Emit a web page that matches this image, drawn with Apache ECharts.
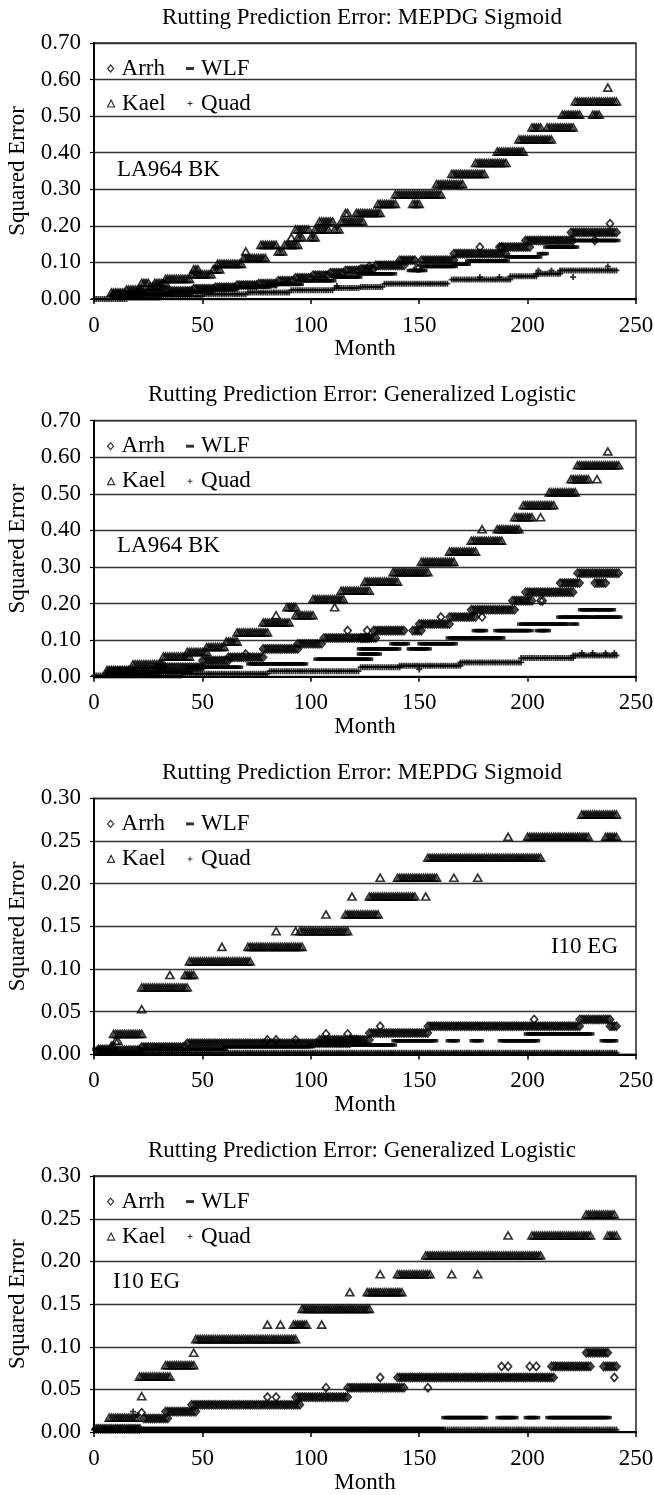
<!DOCTYPE html>
<html><head><meta charset="utf-8">
<script src="https://cdn.jsdelivr.net/npm/echarts@6/dist/echarts.min.js"></script>
<style>html,body{margin:0;padding:0;background:#fff}#c{width:654px;height:1495px}</style>
</head><body><div id="c"></div>
<script>
// ---------- text ----------
const titles = [
  'Rutting Prediction Error: MEPDG Sigmoid',
  'Rutting Prediction Error: Generalized Logistic',
  'Rutting Prediction Error: MEPDG Sigmoid',
  'Rutting Prediction Error: Generalized Logistic'
];
const siteLabels = ['LA964 BK', 'LA964 BK', 'I10 EG', 'I10 EG'];
const seriesNames = ['Arrh', 'WLF', 'Kael', 'Quad'];
const xAxisName = 'Month';
const yAxisName = 'Squared Error';
const xTickMax = 250, xTickStep = 50;
const yTickMax = [0.70, 0.70, 0.30, 0.30];
const yTickStep = [0.10, 0.10, 0.05, 0.05];

// ---------- data: runs of [firstMonth, lastMonth, squaredError] ----------
// Panel 1: LA964 BK, MEPDG Sigmoid
const arrh1 = [[9,20,0.012],[20,30,0.018],[31,45,0.022],[46,55,0.028],[56,65,0.032],[66,75,0.038],[76,84,0.042],[85,92,0.05],[93,100,0.058],[101,108,0.065],[109,115,0.072],[116,122,0.078],[123,129,0.082],[127,127,0.089],[130,143,0.092],[141,148,0.106],[149,150,0.085],[151,166,0.106],[166,166,0.124],[167,190,0.124],[178,178,0.142],[188,188,0.142],[187,201,0.142],[199,221,0.16],[220,241,0.182],[231,231,0.16],[238,238,0.206]];
const wlf1 = [[9,20,0.008],[21,35,0.013],[36,50,0.02],[51,65,0.026],[66,80,0.033],[81,95,0.04],[96,110,0.05],[111,122,0.06],[123,138,0.069],[146,152,0.078],[152,166,0.089],[167,172,0.095],[173,190,0.104],[191,205,0.115],[206,208,0.124],[209,222,0.142],[222,241,0.16]];
const kael1 = [[8,14,0.018],[15,22,0.0256],[22,25,0.044],[26,30,0.034],[28,33,0.044],[33,44,0.055],[45,54,0.0676],[46,48,0.081],[55,58,0.081],[57,68,0.096],[69,75,0.112],[70,70,0.13],[76,79,0.112],[77,84,0.148],[85,87,0.13],[88,94,0.148],[91,91,0.168],[93,99,0.19],[94,96,0.168],[100,102,0.168],[102,108,0.19],[104,110,0.212],[111,113,0.19],[114,124,0.212],[116,117,0.235],[121,132,0.235],[131,139,0.26],[139,160,0.286],[147,150,0.26],[158,170,0.314],[165,180,0.342],[176,190,0.372],[186,198,0.403],[196,205,0.436],[202,206,0.469],[206,211,0.436],[209,221,0.469],[216,224,0.504],[222,241,0.54],[230,233,0.504],[237,237,0.578]];
const quad1 = [[0,15,0.0],[16,30,0.004],[31,50,0.008],[51,70,0.013],[71,90,0.018],[91,110,0.024],[111,122,0.03],[112,112,0.036],[123,133,0.033],[134,163,0.042],[165,192,0.053],[178,178,0.06],[187,187,0.06],[192,204,0.062],[204,215,0.069],[205,205,0.078],[211,211,0.078],[215,241,0.078],[221,221,0.06],[237,237,0.089]];

// Panel 2: LA964 BK, Generalized Logistic
const arrh2 = [[7,29,0.015],[29,50,0.026],[50,62,0.044],[62,78,0.053],[70,70,0.062],[78,94,0.076],[94,105,0.09],[106,127,0.106],[117,117,0.126],[126,126,0.126],[123,130,0.106],[129,143,0.126],[147,151,0.126],[150,164,0.144],[160,160,0.163],[164,176,0.163],[179,179,0.163],[174,194,0.183],[193,202,0.208],[206,207,0.208],[199,221,0.231],[215,224,0.256],[231,236,0.256],[223,242,0.283]];
const wlf2 = [[7,44,0.012],[44,67,0.026],[72,97,0.035],[103,127,0.048],[123,131,0.062],[123,140,0.076],[138,144,0.09],[146,154,0.076],[151,166,0.09],[164,188,0.106],[176,180,0.126],[186,201,0.126],[205,209,0.126],[197,218,0.144],[221,222,0.144],[215,228,0.163],[230,242,0.163],[225,239,0.183]];
const kael2 = [[6,18,0.018],[18,32,0.034],[32,44,0.055],[43,52,0.0676],[52,60,0.081],[61,66,0.096],[66,80,0.121],[78,90,0.148],[84,84,0.168],[89,93,0.19],[93,101,0.168],[101,115,0.212],[111,111,0.19],[114,127,0.235],[125,140,0.26],[138,154,0.286],[151,166,0.314],[164,176,0.342],[174,188,0.372],[179,179,0.403],[186,196,0.403],[194,202,0.436],[206,206,0.436],[198,212,0.469],[210,222,0.504],[220,228,0.54],[232,232,0.54],[223,242,0.578],[237,237,0.616]];
const quad2 = [[0,40,0.003],[41,80,0.008],[81,122,0.015],[123,141,0.026],[150,150,0.02],[141,169,0.03],[169,197,0.039],[197,221,0.051],[221,241,0.058],[225,225,0.065],[230,230,0.065],[236,236,0.065],[240,240,0.065]];

// Panel 3: I10 EG, MEPDG Sigmoid
const arrh3 = [[2,8,0.006],[9,21,0.005],[22,42,0.0086],[43,118,0.013],[80,80,0.017],[84,84,0.017],[93,93,0.017],[104,122,0.017],[107,107,0.024],[117,117,0.024],[118,127,0.017],[127,154,0.025],[132,132,0.033],[154,224,0.033],[203,203,0.041],[224,238,0.041],[238,241,0.033]];
const wlf3 = [[1,4,0.006],[5,21,0.002],[22,60,0.006],[61,100,0.009],[100,138,0.011],[139,157,0.016],[164,167,0.016],[175,178,0.016],[188,204,0.016],[200,229,0.024],[235,240,0.016]];
const kael3 = [[8,9,0.01],[10,11,0.016],[9,22,0.024],[22,22,0.0529],[22,43,0.0784],[35,35,0.093],[42,46,0.093],[44,72,0.109],[59,59,0.126],[71,96,0.126],[84,84,0.1444],[93,93,0.1444],[95,117,0.1444],[107,107,0.164],[116,131,0.164],[119,119,0.185],[127,148,0.185],[153,153,0.185],[132,132,0.207],[140,158,0.207],[166,166,0.207],[177,177,0.207],[154,206,0.2304],[191,191,0.255],[200,228,0.255],[236,241,0.255],[225,241,0.281]];
const quad3 = [[1,241,0.002]];

// Panel 4: I10 EG, Generalized Logistic
const arrh4 = [[1,21,0.004],[22,22,0.0227],[23,34,0.016],[33,47,0.024],[45,95,0.032],[80,80,0.041],[84,84,0.041],[93,93,0.041],[94,117,0.041],[107,107,0.052],[117,143,0.052],[154,154,0.052],[132,132,0.064],[140,212,0.064],[188,188,0.077],[191,191,0.077],[201,201,0.077],[204,204,0.077],[211,229,0.077],[235,241,0.077],[227,237,0.093],[240,240,0.064]];
const wlf4 = [[1,160,0.004],[162,180,0.017],[187,194,0.017],[200,204,0.017],[210,237,0.017]];
const kael4 = [[7,20,0.0169],[22,22,0.042],[21,35,0.065],[33,46,0.0784],[46,46,0.093],[47,93,0.109],[80,80,0.126],[86,86,0.126],[92,98,0.126],[105,105,0.126],[96,127,0.1444],[118,118,0.164],[126,142,0.164],[132,132,0.185],[140,155,0.185],[165,165,0.185],[177,177,0.185],[153,206,0.207],[191,191,0.2304],[202,229,0.2304],[237,241,0.2304],[227,240,0.255]];
const quad4 = [[0,241,0.003],[18,18,0.024],[20,20,0.02]];

const panelData = [
  [arrh1, wlf1, kael1, quad1],
  [arrh2, wlf2, kael2, quad2],
  [arrh3, wlf3, kael3, quad3],
  [arrh4, wlf4, kael4, quad4]
];

// ---------- build ----------
function expand(runs) {
  const out = [];
  runs.forEach(([a, b, v]) => { for (let m = a; m <= b; m++) out.push([m, v]); });
  return out;
}

const FONT = 'Liberation Serif';
const FS = 23;
const GRID_LEFT = 94, GRID_RIGHT = 18, GRID_H = 256;
const gridTop = i => 43 + i * 377.7;

const hollow = { color: 'rgba(0,0,0,0)', borderColor: '#000', borderWidth: 1.7 };
const solid = { color: '#000', borderWidth: 0 };
const markerStyle = {
  Arrh: { symbol: 'diamond', size: [7, 8], style: hollow,
          icon: 'path://M3,0L6,3.5L3,7L0,3.5Z' },
  WLF:  { symbol: 'rect', size: [8, 3.5], style: solid,
          icon: 'path://M0,2H8V5H0Z M0,0L0,0 M0,7L0,7' },
  Kael: { symbol: 'triangle', size: [8, 7], style: hollow,
          icon: 'path://M3,0L6,6L0,6Z' },
  Quad: { symbol: 'path://M2.1,0H3.9V2.1H6V3.9H3.9V6H2.1V3.9H0V2.1H2.1Z', size: [6, 6], style: solid,
          icon: 'path://M3,1H4V3H6V4H4V6H3V4H1V3H3Z M0,0L0,0 M7,7L7,7' }
};
const legendIconStyle = {
  Arrh: { color: 'rgba(0,0,0,0)', borderColor: '#000', borderWidth: 1.2 },
  WLF: { color: '#000', borderWidth: 0 },
  Kael: { color: 'rgba(0,0,0,0)', borderColor: '#000', borderWidth: 1.2 },
  Quad: { color: '#000', borderWidth: 0 }
};

const option = {
  animation: false,
  backgroundColor: '#fff',
  textStyle: { fontFamily: FONT },
  title: [], grid: [], xAxis: [], yAxis: [], series: [], legend: [], graphic: []
};

for (let i = 0; i < 4; i++) {
  const top = gridTop(i);
  option.title.push({
    text: titles[i], left: GRID_LEFT + (654 - GRID_LEFT - GRID_RIGHT) / 2 - 3, top: top - 37,
    textAlign: 'center', padding: 0,
    textStyle: { fontFamily: FONT, fontSize: FS, fontWeight: 'normal', color: '#000' }
  });
  option.grid.push({
    left: GRID_LEFT, right: GRID_RIGHT, top: top, height: GRID_H,
    show: true, borderColor: '#222', borderWidth: 1.5, backgroundColor: 'rgba(0,0,0,0)',
    containLabel: false, outerBoundsMode: 'none'
  });
  option.xAxis.push({
    type: 'value', gridIndex: i, min: 0, max: xTickMax, interval: xTickStep,
    name: xAxisName, nameLocation: 'middle', nameGap: 38,
    nameTextStyle: { fontFamily: FONT, fontSize: FS, color: '#000' },
    axisLine: { show: true, onZero: false, lineStyle: { color: '#000', width: 2 } },
    axisTick: { show: true, inside: false, length: 5, lineStyle: { color: '#000', width: 1.5 } },
    splitLine: { show: false },
    axisLabel: { fontFamily: FONT, fontSize: FS, color: '#000', margin: 15, showMinLabel: true, showMaxLabel: true }
  });
  option.yAxis.push({
    type: 'value', gridIndex: i, min: 0, max: yTickMax[i], interval: yTickStep[i],
    name: yAxisName, nameLocation: 'middle', nameGap: 65, nameRotate: 90,
    nameTextStyle: { fontFamily: FONT, fontSize: FS, color: '#000' },
    axisLine: { show: true, onZero: false, lineStyle: { color: '#000', width: 2 } },
    axisTick: { show: true, inside: false, length: 4, lineStyle: { color: '#000', width: 1.2 } },
    splitLine: { show: true, lineStyle: { color: '#333', width: 1.3 } },
    axisLabel: { fontFamily: FONT, fontSize: FS, color: '#000', margin: 13,
                 showMinLabel: true, showMaxLabel: true,
                 formatter: v => v.toFixed(2) }
  });
  seriesNames.forEach((name, k) => {
    const ms = markerStyle[name];
    option.series.push({
      type: 'scatter', name: name, xAxisIndex: i, yAxisIndex: i,
      symbol: ms.symbol, symbolSize: ms.size,
      itemStyle: ms.style, emphasis: { disabled: true },
      silent: true, large: false,
      data: expand(panelData[i][k])
    });
  });
  const legendBase = {
    left: 107, itemWidth: 12, itemHeight: 7, itemGap: 21, padding: 0,
    selectedMode: false, orient: 'horizontal',
    textStyle: { fontFamily: FONT, fontSize: FS, color: '#000' }
  };
  const legendItem = n => ({ name: n, icon: markerStyle[n].icon, itemStyle: legendIconStyle[n] });
  option.legend.push(Object.assign({}, legendBase, {
    top: top + 14, data: ['Arrh', 'WLF'].map(legendItem)
  }));
  option.legend.push(Object.assign({}, legendBase, {
    top: top + 49, data: ['Kael', 'Quad'].map(legendItem)
  }));
}

// site labels inside plots
const sitePos = [
  { left: 117, top: gridTop(0) + 115 },
  { left: 117, top: gridTop(1) + 114 },
  { right: 36, top: gridTop(2) + 137 },
  { left: 113, top: gridTop(3) + 94 }
];
sitePos.forEach((p, i) => {
  option.graphic.push(Object.assign({
    type: 'text', z: 100,
    style: { text: siteLabels[i], font: FS + 'px "' + FONT + '"', fill: '#000' }
  }, p));
});

const chart = echarts.init(document.getElementById('c'), null, { renderer: 'canvas' });
chart.setOption(option);
</script>
</body></html>
